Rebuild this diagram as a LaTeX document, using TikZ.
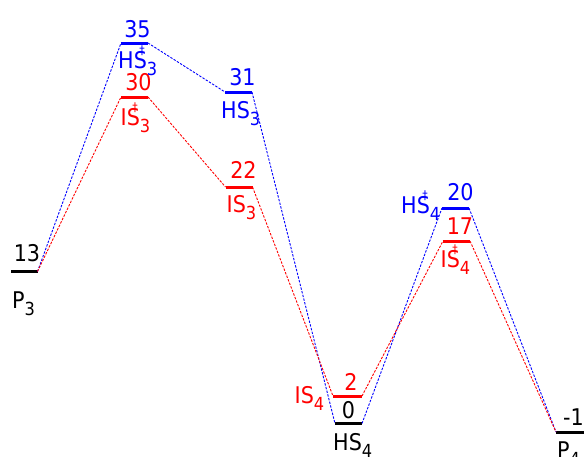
\documentclass[tikz,border=0pt]{standalone}
\usepackage{fontspec}
\setmainfont{DejaVu Sans Condensed}
\definecolor{eblue}{RGB}{0,0,255}
\definecolor{ered}{RGB}{255,0,0}
\newcommand{\subsc}[1]{\raisebox{-7pt}{\fontsize{18}{18}\selectfont #1}}
\newcommand{\tsmark}{\rlap{\kern-7.5pt\raisebox{13.5pt}{\fontsize{12}{12}\selectfont ‡}}}
\tikzset{
  lvl/.style={draw=none, fill=#1, minimum width=27pt, minimum height=3pt, inner sep=0pt, outer sep=0pt, shape=rectangle},
  lab/.style={text=#1, inner sep=0pt, font=\fontsize{23}{26}\selectfont},
  conn/.style={draw=#1, line width=0.9pt, dash pattern=on 2.4pt off 1.4pt},
}
\begin{document}
\begin{tikzpicture}[x=1pt,y=-1pt]
\useasboundingbox (0,0) rectangle (584,456);
% levels
\node[lvl=black] (p3) at (24,271.5) {};
\node[lvl=eblue] (hs3t) at (134.5,43) {};
\node[lvl=ered] (is3t) at (134.5,97) {};
\node[lvl=eblue] (hs3) at (238.5,92) {};
\node[lvl=ered] (is3) at (239,187) {};
\node[lvl=ered, minimum width=29pt] (is4) at (347.5,396) {};
\node[lvl=black] (hs4) at (348.5,423.5) {};
\node[lvl=eblue] (hs4t) at (455.5,208) {};
\node[lvl=ered] (is4t) at (456.5,241) {};
\node[lvl=black, minimum width=30pt] (p4) at (571,432) {};
% connectors
\draw[conn=eblue] (p3.east) -- (hs3t.west);
\draw[conn=eblue] (hs3t.east) -- (hs3.west);
\draw[conn=eblue] (hs3.east) -- (hs4.west);
\draw[conn=eblue] (hs4.east) -- (hs4t.west);
\draw[conn=eblue] (hs4t.east) -- (p4.west);
\draw[conn=ered] (p3.east) -- (is3t.west);
\draw[conn=ered] (is3t.east) -- (is3.west);
\draw[conn=ered] (is3.east) -- (is4.west);
\draw[conn=ered] (is4.east) -- (is4t.west);
\draw[conn=ered] (is4t.east) -- (p4.west);
% energies
\node[lab=black, anchor=base] (e13) at (27,261.5) {13};
\node[lab=eblue, anchor=base] (e35) at (137.5,37) {35};
\node[lab=ered, anchor=base] (e30) at (138.5,90) {30};
\node[lab=eblue, anchor=base] (e31) at (242.5,85) {31};
\node[lab=ered, anchor=base] (e22) at (243.5,178) {22};
\node[lab=ered, anchor=base] (e2) at (351,390) {2};
\node[lab=black, anchor=base] (e0) at (348.5,418) {0};
\node[lab=eblue, anchor=base] (e20) at (460.5,200) {20};
\node[lab=ered, anchor=base] (e17) at (460,234) {17};
\node[lab=black, anchor=base west] (em1) at (563,425) {-1};
% names
\node[lab=black, anchor=base west] (n1) at (12,308) {P\subsc{3}};
\node[lab=eblue, anchor=base west] (n2) at (118,68) {HS\tsmark\subsc{3}};
\node[lab=ered, anchor=base west] (n3) at (120.5,125) {IS\tsmark\subsc{3}};
\node[lab=eblue, anchor=base west] (n4) at (221,118) {HS\subsc{3}};
\node[lab=ered, anchor=base west] (n5) at (226.5,212) {IS\subsc{3}};
\node[lab=ered, anchor=base west] (n6) at (294.5,403.5) {IS\subsc{4}};
\node[lab=black, anchor=base west] (n7) at (333,450) {HS\subsc{4}};
\node[lab=eblue, anchor=base west] (n8) at (401,213) {HS\tsmark\subsc{4}};
\node[lab=ered, anchor=base west] (n9) at (440.5,267) {IS\tsmark\subsc{4}};
\node[lab=black, anchor=base west] (n10) at (557,458) {P\subsc{4}};
\end{tikzpicture}
\end{document}
